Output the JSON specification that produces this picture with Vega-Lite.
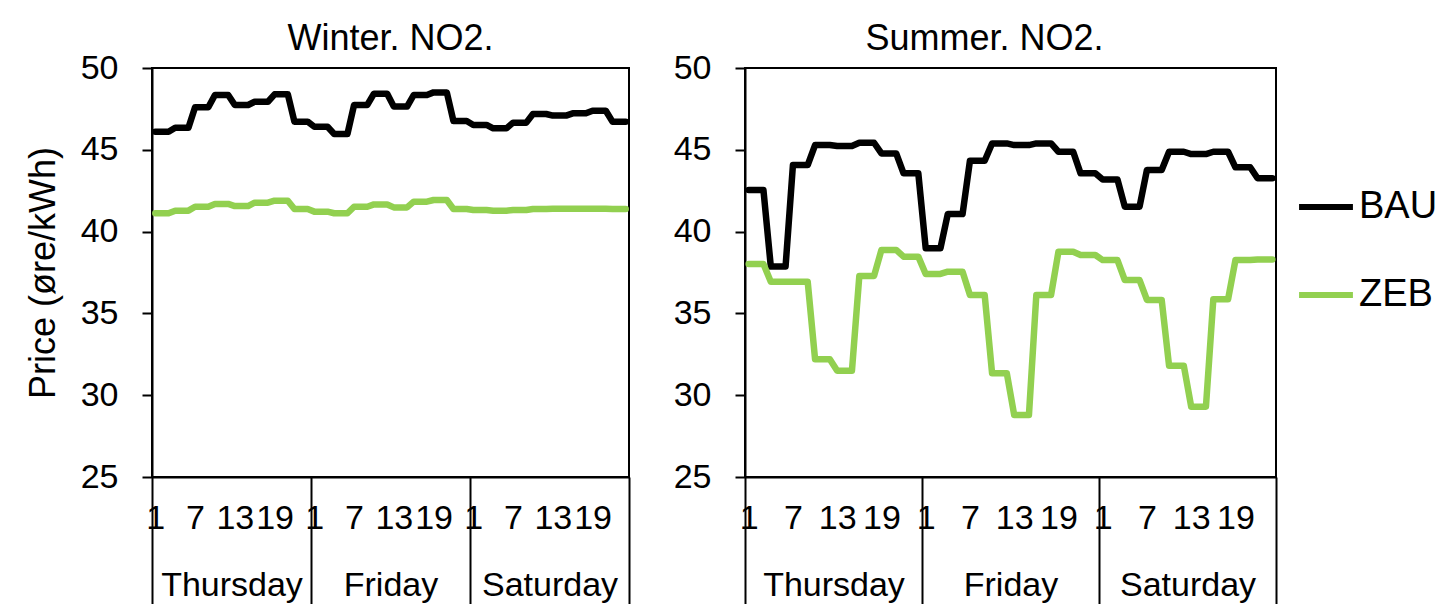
{
  "$schema": "https://vega.github.io/schema/vega-lite/v6.json",
  "padding": {"left": 24, "top": 20, "right": 0, "bottom": 0},
  "autosize": {"type": "pad"},
  "background": "#ffffff",
  "config": {
    "font": "Liberation Sans",
    "view": {"stroke": "#000000", "strokeWidth": 2},
    "axis": {
      "grid": false,
      "domainColor": "#000000",
      "domainWidth": 2,
      "tickColor": "#000000",
      "tickWidth": 2,
      "labelColor": "#000000",
      "labelFont": "Liberation Sans",
      "labelFontSize": 34,
      "titleColor": "#000000",
      "titleFont": "Liberation Sans",
      "titleFontWeight": "normal"
    },
    "title": {"font": "Liberation Sans", "fontSize": 36, "fontWeight": "normal", "color": "#000000", "frame": "group", "anchor": "middle", "offset": -7},
    "concat": {"spacing": 41},
    "legend": {"labelFont": "Liberation Sans"}
  },
  "datasets": {
    "winter": [
      {"t": 1, "BAU": 46.1, "ZEB": 41.12}, {"t": 2, "BAU": 46.1, "ZEB": 41.12}, {"t": 3, "BAU": 46.1, "ZEB": 41.12},
      {"t": 4, "BAU": 46.35, "ZEB": 41.28}, {"t": 5, "BAU": 46.35, "ZEB": 41.28}, {"t": 6, "BAU": 46.35, "ZEB": 41.28},
      {"t": 7, "BAU": 47.6, "ZEB": 41.52}, {"t": 8, "BAU": 47.6, "ZEB": 41.52}, {"t": 9, "BAU": 47.6, "ZEB": 41.52},
      {"t": 10, "BAU": 48.35, "ZEB": 41.69}, {"t": 11, "BAU": 48.35, "ZEB": 41.69}, {"t": 12, "BAU": 48.35, "ZEB": 41.69},
      {"t": 13, "BAU": 47.74, "ZEB": 41.56}, {"t": 14, "BAU": 47.74, "ZEB": 41.56}, {"t": 15, "BAU": 47.74, "ZEB": 41.56},
      {"t": 16, "BAU": 47.94, "ZEB": 41.77}, {"t": 17, "BAU": 47.94, "ZEB": 41.77}, {"t": 18, "BAU": 47.94, "ZEB": 41.77},
      {"t": 19, "BAU": 48.39, "ZEB": 41.89}, {"t": 20, "BAU": 48.39, "ZEB": 41.89}, {"t": 21, "BAU": 48.39, "ZEB": 41.89},
      {"t": 22, "BAU": 46.72, "ZEB": 41.38}, {"t": 23, "BAU": 46.72, "ZEB": 41.38}, {"t": 24, "BAU": 46.72, "ZEB": 41.38},
      {"t": 25, "BAU": 46.41, "ZEB": 41.22}, {"t": 26, "BAU": 46.41, "ZEB": 41.22}, {"t": 27, "BAU": 46.41, "ZEB": 41.22},
      {"t": 28, "BAU": 45.97, "ZEB": 41.12}, {"t": 29, "BAU": 45.97, "ZEB": 41.12}, {"t": 30, "BAU": 45.97, "ZEB": 41.12},
      {"t": 31, "BAU": 47.74, "ZEB": 41.52}, {"t": 32, "BAU": 47.74, "ZEB": 41.52}, {"t": 33, "BAU": 47.74, "ZEB": 41.52},
      {"t": 34, "BAU": 48.43, "ZEB": 41.66}, {"t": 35, "BAU": 48.43, "ZEB": 41.66}, {"t": 36, "BAU": 48.43, "ZEB": 41.66},
      {"t": 37, "BAU": 47.64, "ZEB": 41.48}, {"t": 38, "BAU": 47.64, "ZEB": 41.48}, {"t": 39, "BAU": 47.64, "ZEB": 41.48},
      {"t": 40, "BAU": 48.35, "ZEB": 41.83}, {"t": 41, "BAU": 48.35, "ZEB": 41.83}, {"t": 42, "BAU": 48.35, "ZEB": 41.83},
      {"t": 43, "BAU": 48.51, "ZEB": 41.93}, {"t": 44, "BAU": 48.51, "ZEB": 41.93}, {"t": 45, "BAU": 48.51, "ZEB": 41.93},
      {"t": 46, "BAU": 46.76, "ZEB": 41.38}, {"t": 47, "BAU": 46.76, "ZEB": 41.38}, {"t": 48, "BAU": 46.76, "ZEB": 41.38},
      {"t": 49, "BAU": 46.52, "ZEB": 41.32}, {"t": 50, "BAU": 46.52, "ZEB": 41.32}, {"t": 51, "BAU": 46.52, "ZEB": 41.32},
      {"t": 52, "BAU": 46.31, "ZEB": 41.28}, {"t": 53, "BAU": 46.31, "ZEB": 41.28}, {"t": 54, "BAU": 46.31, "ZEB": 41.28},
      {"t": 55, "BAU": 46.66, "ZEB": 41.32}, {"t": 56, "BAU": 46.66, "ZEB": 41.32}, {"t": 57, "BAU": 46.66, "ZEB": 41.32},
      {"t": 58, "BAU": 47.19, "ZEB": 41.38}, {"t": 59, "BAU": 47.19, "ZEB": 41.38}, {"t": 60, "BAU": 47.19, "ZEB": 41.38},
      {"t": 61, "BAU": 47.09, "ZEB": 41.4}, {"t": 62, "BAU": 47.09, "ZEB": 41.4}, {"t": 63, "BAU": 47.09, "ZEB": 41.4},
      {"t": 64, "BAU": 47.23, "ZEB": 41.4}, {"t": 65, "BAU": 47.23, "ZEB": 41.4}, {"t": 66, "BAU": 47.23, "ZEB": 41.4},
      {"t": 67, "BAU": 47.39, "ZEB": 41.4}, {"t": 68, "BAU": 47.39, "ZEB": 41.4}, {"t": 69, "BAU": 47.39, "ZEB": 41.4},
      {"t": 70, "BAU": 46.72, "ZEB": 41.38}, {"t": 71, "BAU": 46.72, "ZEB": 41.38}, {"t": 72, "BAU": 46.72, "ZEB": 41.38}
    ],
    "summer": [
      {"t": 1, "BAU": 42.54, "ZEB": 38.02}, {"t": 2, "BAU": 42.54, "ZEB": 38.02}, {"t": 3, "BAU": 42.54, "ZEB": 38.02},
      {"t": 4, "BAU": 37.86, "ZEB": 36.94}, {"t": 5, "BAU": 37.86, "ZEB": 36.94}, {"t": 6, "BAU": 37.86, "ZEB": 36.94},
      {"t": 7, "BAU": 44.07, "ZEB": 36.94}, {"t": 8, "BAU": 44.07, "ZEB": 36.94}, {"t": 9, "BAU": 44.07, "ZEB": 36.94},
      {"t": 10, "BAU": 45.29, "ZEB": 32.2}, {"t": 11, "BAU": 45.29, "ZEB": 32.2}, {"t": 12, "BAU": 45.29, "ZEB": 32.2},
      {"t": 13, "BAU": 45.23, "ZEB": 31.5}, {"t": 14, "BAU": 45.23, "ZEB": 31.5}, {"t": 15, "BAU": 45.23, "ZEB": 31.5},
      {"t": 16, "BAU": 45.43, "ZEB": 37.29}, {"t": 17, "BAU": 45.43, "ZEB": 37.29}, {"t": 18, "BAU": 45.43, "ZEB": 37.29},
      {"t": 19, "BAU": 44.78, "ZEB": 38.88}, {"t": 20, "BAU": 44.78, "ZEB": 38.88}, {"t": 21, "BAU": 44.78, "ZEB": 38.88},
      {"t": 22, "BAU": 43.56, "ZEB": 38.47}, {"t": 23, "BAU": 43.56, "ZEB": 38.47}, {"t": 24, "BAU": 43.56, "ZEB": 38.47},
      {"t": 25, "BAU": 38.98, "ZEB": 37.41}, {"t": 26, "BAU": 38.98, "ZEB": 37.41}, {"t": 27, "BAU": 38.98, "ZEB": 37.41},
      {"t": 28, "BAU": 41.08, "ZEB": 37.55}, {"t": 29, "BAU": 41.08, "ZEB": 37.55}, {"t": 30, "BAU": 41.08, "ZEB": 37.55},
      {"t": 31, "BAU": 44.33, "ZEB": 36.12}, {"t": 32, "BAU": 44.33, "ZEB": 36.12}, {"t": 33, "BAU": 44.33, "ZEB": 36.12},
      {"t": 34, "BAU": 45.39, "ZEB": 31.34}, {"t": 35, "BAU": 45.39, "ZEB": 31.34}, {"t": 36, "BAU": 45.39, "ZEB": 31.34},
      {"t": 37, "BAU": 45.29, "ZEB": 28.79}, {"t": 38, "BAU": 45.29, "ZEB": 28.79}, {"t": 39, "BAU": 45.29, "ZEB": 28.79},
      {"t": 40, "BAU": 45.39, "ZEB": 36.12}, {"t": 41, "BAU": 45.39, "ZEB": 36.12}, {"t": 42, "BAU": 45.39, "ZEB": 36.12},
      {"t": 43, "BAU": 44.88, "ZEB": 38.77}, {"t": 44, "BAU": 44.88, "ZEB": 38.77}, {"t": 45, "BAU": 44.88, "ZEB": 38.77},
      {"t": 46, "BAU": 43.56, "ZEB": 38.57}, {"t": 47, "BAU": 43.56, "ZEB": 38.57}, {"t": 48, "BAU": 43.56, "ZEB": 38.57},
      {"t": 49, "BAU": 43.19, "ZEB": 38.26}, {"t": 50, "BAU": 43.19, "ZEB": 38.26}, {"t": 51, "BAU": 43.19, "ZEB": 38.26},
      {"t": 52, "BAU": 41.52, "ZEB": 37.04}, {"t": 53, "BAU": 41.52, "ZEB": 37.04}, {"t": 54, "BAU": 41.52, "ZEB": 37.04},
      {"t": 55, "BAU": 43.77, "ZEB": 35.82}, {"t": 56, "BAU": 43.77, "ZEB": 35.82}, {"t": 57, "BAU": 43.77, "ZEB": 35.82},
      {"t": 58, "BAU": 44.88, "ZEB": 31.8}, {"t": 59, "BAU": 44.88, "ZEB": 31.8}, {"t": 60, "BAU": 44.88, "ZEB": 31.8},
      {"t": 61, "BAU": 44.74, "ZEB": 29.3}, {"t": 62, "BAU": 44.74, "ZEB": 29.3}, {"t": 63, "BAU": 44.74, "ZEB": 29.3},
      {"t": 64, "BAU": 44.88, "ZEB": 35.86}, {"t": 65, "BAU": 44.88, "ZEB": 35.86}, {"t": 66, "BAU": 44.88, "ZEB": 35.86},
      {"t": 67, "BAU": 43.93, "ZEB": 38.26}, {"t": 68, "BAU": 43.93, "ZEB": 38.26}, {"t": 69, "BAU": 43.93, "ZEB": 38.26},
      {"t": 70, "BAU": 43.26, "ZEB": 38.3}, {"t": 71, "BAU": 43.26, "ZEB": 38.3}, {"t": 72, "BAU": 43.26, "ZEB": 38.3}
    ]
  },
  "hconcat": [
    {
      "title": "Winter. NO2.",
      "width": 477,
      "height": 409,
      "data": {"name": "winter"},
      "transform": [{"fold": ["BAU", "ZEB"], "as": ["series", "price"]}],
      "mark": {"type": "line", "strokeWidth": 6.5, "strokeJoin": "round", "strokeCap": "round"},
      "encoding": {
        "x": {
          "field": "t", "type": "quantitative",
          "scale": {"domain": [0.5, 72.5], "nice": false, "zero": false},
          "axis": {
            "title": null,
            "values": [0.5, 1, 7, 12.5, 13, 19, 24.5, 25, 31, 36.5, 37, 43, 48.5, 49, 55, 60.5, 61, 67, 72.5],
            "labelExpr": "datum.value % 1 == 0 ? toString(((datum.value - 1) % 24) + 1) : (datum.value % 24 == 12.5 ? ['Thursday', 'Friday', 'Saturday'][floor(datum.value / 24)] : '')",
            "labelOverlap": false,
            "labelFlush": false,
            "labelBound": false,
            "tickSize": {"condition": {"test": "datum.value % 24 == 0.5", "value": 127}, "value": 0},
            "labelPadding": {"condition": {"test": "datum.value % 24 == 12.5", "value": 91}, "value": 24}
          }
        },
        "y": {
          "field": "price", "type": "quantitative",
          "scale": {"domain": [25, 50], "nice": false, "zero": false},
          "axis": {"values": [25, 30, 35, 40, 45, 50], "tickSize": 10, "labelPadding": 24, "title": "Price (øre/kWh)", "titleFontSize": 36, "titlePadding": 18}
        },
        "color": {
          "field": "series", "type": "nominal",
          "scale": {"domain": ["BAU", "ZEB"], "range": ["#000000", "#92D050"]},
          "legend": {
            "title": null, "orient": "none", "legendX": 1144, "legendY": 109,
            "symbolType": "stroke", "symbolStrokeWidth": 6, "symbolSize": 2900,
            "labelFontSize": 38, "labelColor": "#000000", "rowPadding": 39, "labelOffset": 3
          }
        }
      }
    },
    {
      "title": {"text": "Summer. NO2.", "dx": -26},
      "width": 531,
      "height": 409,
      "data": {"name": "summer"},
      "transform": [{"fold": ["BAU", "ZEB"], "as": ["series", "price"]}],
      "mark": {"type": "line", "strokeWidth": 6.5, "strokeJoin": "round", "strokeCap": "round"},
      "encoding": {
        "x": {
          "field": "t", "type": "quantitative",
          "scale": {"domain": [0.5, 72.5], "nice": false, "zero": false},
          "axis": {
            "title": null,
            "values": [0.5, 1, 7, 12.5, 13, 19, 24.5, 25, 31, 36.5, 37, 43, 48.5, 49, 55, 60.5, 61, 67, 72.5],
            "labelExpr": "datum.value % 1 == 0 ? toString(((datum.value - 1) % 24) + 1) : (datum.value % 24 == 12.5 ? ['Thursday', 'Friday', 'Saturday'][floor(datum.value / 24)] : '')",
            "labelOverlap": false,
            "labelFlush": false,
            "labelBound": false,
            "tickSize": {"condition": {"test": "datum.value % 24 == 0.5", "value": 127}, "value": 0},
            "labelPadding": {"condition": {"test": "datum.value % 24 == 12.5", "value": 91}, "value": 24}
          }
        },
        "y": {
          "field": "price", "type": "quantitative",
          "scale": {"domain": [25, 50], "nice": false, "zero": false},
          "axis": {"values": [25, 30, 35, 40, 45, 50], "tickSize": 10, "labelPadding": 24, "title": null}
        },
        "color": {
          "field": "series", "type": "nominal",
          "scale": {"domain": ["BAU", "ZEB"], "range": ["#000000", "#92D050"]},
          "legend": {
            "title": null, "orient": "none", "legendX": 1144, "legendY": 109,
            "symbolType": "stroke", "symbolStrokeWidth": 6, "symbolSize": 2900,
            "labelFontSize": 38, "labelColor": "#000000", "rowPadding": 39, "labelOffset": 3
          }
        }
      }
    }
  ]
}
